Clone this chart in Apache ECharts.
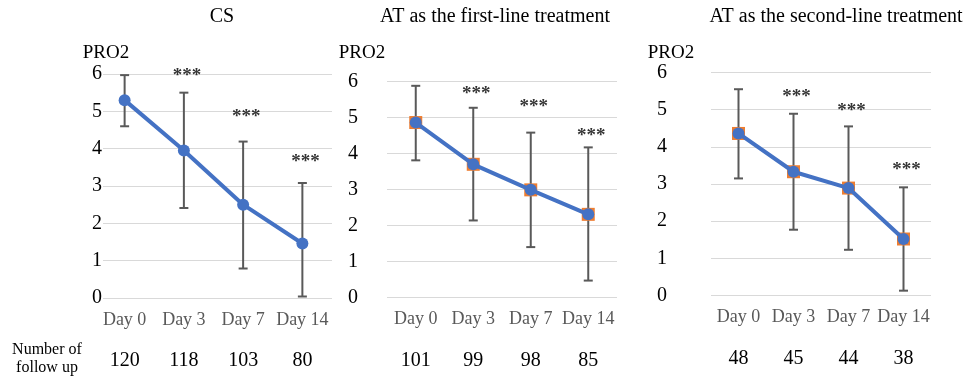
<!DOCTYPE html>
<html><head><meta charset="utf-8">
<script src="https://cdn.jsdelivr.net/npm/echarts@6/dist/echarts.min.js"></script>
<style>html,body{margin:0;padding:0;background:#fff}#c{width:969px;height:381px}</style>
</head><body><div id="c"></div>
<script>
const categories = ['Day 0', 'Day 3', 'Day 7', 'Day 14'];
const panelTitles = ['CS', 'AT as the first-line treatment', 'AT as the second-line treatment'];
const yTicks = [0, 1, 2, 3, 4, 5, 6];

const csMean = [5.30, 3.95, 2.50, 1.46];
const csUpper = [5.97, 5.50, 4.19, 3.08];
const csLower = [4.60, 2.41, 0.79, 0.04];
const csStars = [null, 6.05, 4.96, 3.75];
const csCounts = ['120', '118', '103', '80'];

const firstMean = [4.86, 3.70, 2.99, 2.31];
const firstUpper = [5.88, 5.27, 4.58, 4.17];
const firstLower = [3.81, 2.14, 1.40, 0.47];
const firstStars = [null, 5.76, 5.40, 4.60];
const firstCounts = ['101', '99', '98', '85'];

const secondMean = [4.36, 3.33, 2.89, 1.52];
const secondUpper = [5.55, 4.89, 4.55, 2.91];
const secondLower = [3.15, 1.77, 1.23, 0.13];
const secondStars = [null, 5.45, 5.07, 3.47];
const secondCounts = ['48', '45', '44', '38'];

const FONT = '"Liberation Serif", "Times New Roman", serif';
const BLUE = '#4472C4', ORANGE = '#ED7D31', ERR = '#595959';

const panels = [
  {mean: csMean, up: csUpper, lo: csLower, stars: csStars, counts: csCounts, squares: false,
   grid: {left: 95, top: 74, width: 237, height: 224}, labelMargin: -8, labelBg: true},
  {mean: firstMean, up: firstUpper, lo: firstLower, stars: firstStars, counts: firstCounts, squares: true,
   grid: {left: 387, top: 81.5, width: 230, height: 216}, labelMargin: 29, labelBg: false},
  {mean: secondMean, up: secondUpper, lo: secondLower, stars: secondStars, counts: secondCounts, squares: true,
   grid: {left: 711, top: 72.5, width: 220, height: 223}, labelMargin: 44, labelBg: false}
];

const grids = [], xAxes = [], yAxes = [], series = [];
panels.forEach((p, i) => {
  grids.push(p.grid);
  xAxes.push({type: 'category', gridIndex: i, data: categories,
    axisLine: {show: false}, axisTick: {show: false},
    axisLabel: {interval: 0, color: '#595959', fontFamily: FONT, fontSize: 18, margin: 13}});
  xAxes.push({type: 'category', gridIndex: i, data: p.counts, position: 'bottom', offset: 53,
    axisLine: {show: false}, axisTick: {show: false},
    axisLabel: {interval: 0, color: '#000', fontFamily: FONT, fontSize: 20, margin: 0}});
  yAxes.push({type: 'value', gridIndex: i, min: yTicks[0], max: yTicks[yTicks.length - 1], interval: 1,
    axisLine: {show: false}, axisTick: {show: false},
    splitLine: {lineStyle: {color: '#D9D9D9', width: 1}},
    axisLabel: {color: '#000', fontFamily: FONT, fontSize: 20, margin: p.labelMargin,
      backgroundColor: p.labelBg ? '#fff' : 'transparent', padding: p.labelBg ? [1, 1] : 0}});
  const errData = p.mean.map((m, k) => [k, p.lo[k], p.up[k]]);
  series.push({type: 'custom', xAxisIndex: 2 * i, yAxisIndex: i, z: 2, clip: false,
    data: errData,
    renderItem: function (params, api) {
      const x = api.value(0);
      const lo = api.coord([x, api.value(1)]);
      const hi = api.coord([x, api.value(2)]);
      const cap = 4.5;
      const st = {stroke: ERR, lineWidth: 2};
      return {type: 'group', children: [
        {type: 'line', shape: {x1: lo[0], y1: lo[1], x2: hi[0], y2: hi[1]}, style: st},
        {type: 'line', shape: {x1: lo[0] - cap, y1: lo[1], x2: lo[0] + cap, y2: lo[1]}, style: st},
        {type: 'line', shape: {x1: hi[0] - cap, y1: hi[1], x2: hi[0] + cap, y2: hi[1]}, style: st}
      ]};
    }});
  if (p.squares) {
    series.push({type: 'scatter', xAxisIndex: 2 * i, yAxisIndex: i, z: 3,
      data: p.mean.map((m, k) => [k, m]), symbol: 'rect', symbolSize: 13,
      itemStyle: {color: ORANGE, opacity: 1}});
  }
  series.push({type: 'line', xAxisIndex: 2 * i, yAxisIndex: i, z: 4,
    data: p.mean.map((m, k) => [k, m]), symbol: 'circle', symbolSize: 12, showSymbol: true,
    lineStyle: {color: BLUE, width: 4}, itemStyle: {color: BLUE, borderWidth: 0}});
  series.push({type: 'scatter', xAxisIndex: 2 * i, yAxisIndex: i, z: 5, clip: false,
    data: p.stars.map((s, k) => s === null ? null : [k, s]).filter(d => d),
    symbolSize: 2, itemStyle: {color: 'rgba(0,0,0,0)'},
    label: {show: true, position: 'inside', formatter: '***', color: '#000',
      fontFamily: FONT, fontWeight: 'bold', fontSize: 19, offset: [3, 4]}});
});

const graphics = [];
const titleX = [222, 495, 836];
panelTitles.forEach((t, i) => graphics.push({type: 'text', x: titleX[i], y: 17,
  style: {text: t, fill: '#000', font: '20px ' + FONT, textAlign: 'center', textVerticalAlign: 'middle'}}));
[106, 362, 671].forEach(x => graphics.push({type: 'text', x: x, y: 53,
  style: {text: 'PRO2', fill: '#000', font: '19px ' + FONT, textAlign: 'center', textVerticalAlign: 'middle'}}));
graphics.push({type: 'text', x: 47, y: 359,
  style: {text: 'Number of\nfollow up', fill: '#000', font: '16px ' + FONT, lineHeight: 18,
    textAlign: 'center', textVerticalAlign: 'middle'}});

const chart = echarts.init(document.getElementById('c'), null, {renderer: 'canvas'});
chart.setOption({animation: false, backgroundColor: '#fff', grid: grids, xAxis: xAxes, yAxis: yAxes,
  series: series, graphic: graphics});
</script></body></html>
